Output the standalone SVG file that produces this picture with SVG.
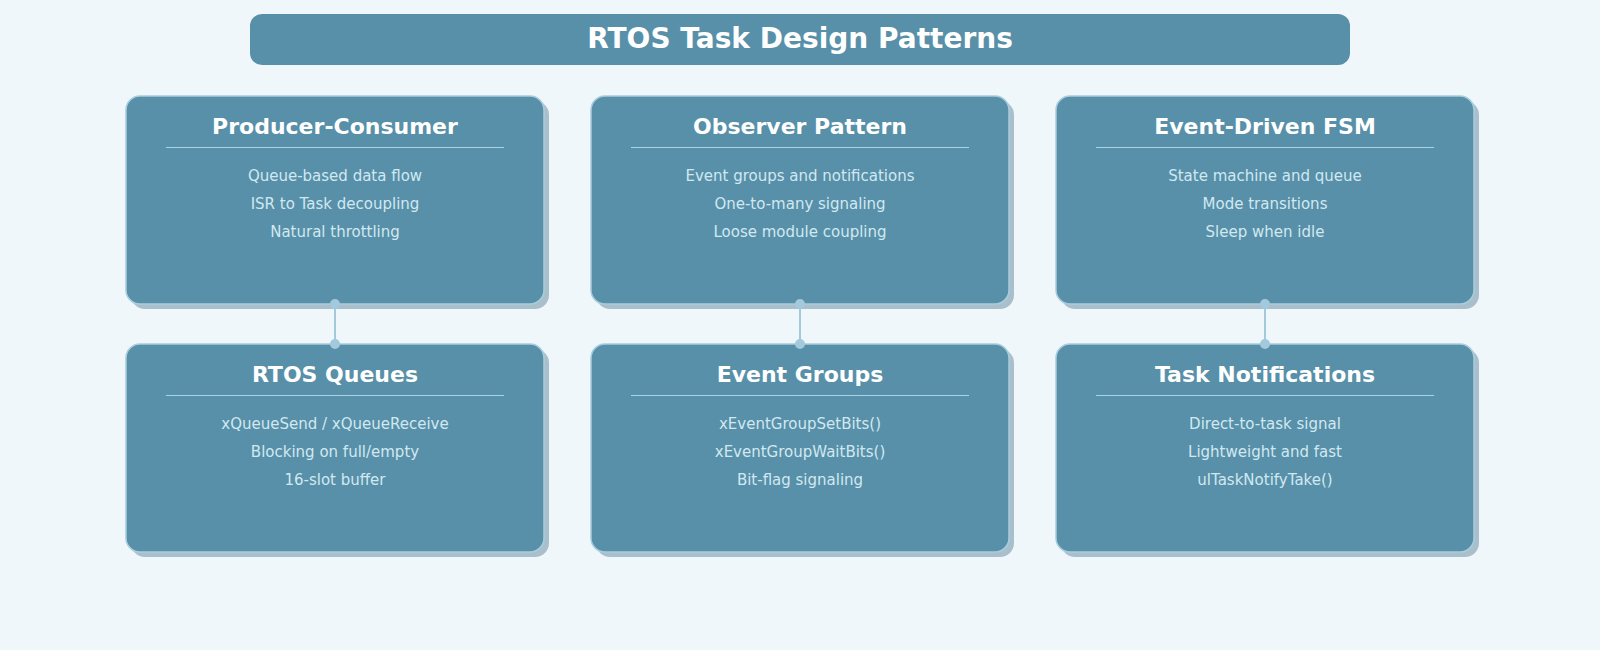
<svg xmlns="http://www.w3.org/2000/svg" width="1600" height="650" viewBox="0 0 1600 650">
<defs>
<style>
.bg{fill:#eff7fa}
.card{fill:#5790a8;stroke:#a9cddd;stroke-width:1.5}
.shadow{fill:#a9bfcc}
.ttl{font-family:"DejaVu Sans",sans-serif;font-weight:bold;font-size:22px;fill:#ffffff;text-anchor:middle}
.body{font-family:"DejaVu Sans",sans-serif;font-size:15px;fill:#d2e8f1;text-anchor:middle}
.sep{stroke:#a9d3e6;stroke-width:1}
.conn{stroke:#a3c9dc;stroke-width:2;fill:none}
.dot{fill:#a3c9dc}
</style>
</defs>
<rect class="bg" x="0" y="0" width="1600" height="650"/>
<g id="title">
<rect x="250" y="14" width="1100" height="51" rx="12" fill="#5790a8"/>
<text x="800" y="48" font-family="DejaVu Sans, sans-serif" font-weight="bold" font-size="28" fill="#ffffff" text-anchor="middle">RTOS Task Design Patterns</text>
</g>
<g id="producer-consumer">
<rect class="shadow" x="131" y="101" width="418" height="208" rx="14"/>
<rect class="card" x="126" y="96" width="418" height="208" rx="14"/>
<text class="ttl" x="335" y="134">Producer-Consumer</text>
<line class="sep" x1="166" y1="147.5" x2="504" y2="147.5"/>
<text class="body" x="335" y="181">Queue-based data flow</text>
<text class="body" x="335" y="209">ISR to Task decoupling</text>
<text class="body" x="335" y="237">Natural throttling</text>
</g>
<g id="observer-pattern">
<rect class="shadow" x="596" y="101" width="418" height="208" rx="14"/>
<rect class="card" x="591" y="96" width="418" height="208" rx="14"/>
<text class="ttl" x="800" y="134">Observer Pattern</text>
<line class="sep" x1="631" y1="147.5" x2="969" y2="147.5"/>
<text class="body" x="800" y="181">Event groups and notifications</text>
<text class="body" x="800" y="209">One-to-many signaling</text>
<text class="body" x="800" y="237">Loose module coupling</text>
</g>
<g id="event-driven-fsm">
<rect class="shadow" x="1061" y="101" width="418" height="208" rx="14"/>
<rect class="card" x="1056" y="96" width="418" height="208" rx="14"/>
<text class="ttl" x="1265" y="134">Event-Driven FSM</text>
<line class="sep" x1="1096" y1="147.5" x2="1434" y2="147.5"/>
<text class="body" x="1265" y="181">State machine and queue</text>
<text class="body" x="1265" y="209">Mode transitions</text>
<text class="body" x="1265" y="237">Sleep when idle</text>
</g>
<g id="rtos-queues">
<rect class="shadow" x="131" y="349" width="418" height="208" rx="14"/>
<rect class="card" x="126" y="344" width="418" height="208" rx="14"/>
<text class="ttl" x="335" y="382">RTOS Queues</text>
<line class="sep" x1="166" y1="395.5" x2="504" y2="395.5"/>
<text class="body" x="335" y="429">xQueueSend / xQueueReceive</text>
<text class="body" x="335" y="457">Blocking on full/empty</text>
<text class="body" x="335" y="485">16-slot buffer</text>
</g>
<g id="event-groups">
<rect class="shadow" x="596" y="349" width="418" height="208" rx="14"/>
<rect class="card" x="591" y="344" width="418" height="208" rx="14"/>
<text class="ttl" x="800" y="382">Event Groups</text>
<line class="sep" x1="631" y1="395.5" x2="969" y2="395.5"/>
<text class="body" x="800" y="429">xEventGroupSetBits()</text>
<text class="body" x="800" y="457">xEventGroupWaitBits()</text>
<text class="body" x="800" y="485">Bit-flag signaling</text>
</g>
<g id="task-notifications">
<rect class="shadow" x="1061" y="349" width="418" height="208" rx="14"/>
<rect class="card" x="1056" y="344" width="418" height="208" rx="14"/>
<text class="ttl" x="1265" y="382">Task Notifications</text>
<line class="sep" x1="1096" y1="395.5" x2="1434" y2="395.5"/>
<text class="body" x="1265" y="429">Direct-to-task signal</text>
<text class="body" x="1265" y="457">Lightweight and fast</text>
<text class="body" x="1265" y="485">ulTaskNotifyTake()</text>
</g>
<g id="connectors">
<line class="conn" x1="335" y1="304" x2="335" y2="344"/>
<circle class="dot" cx="335" cy="304" r="5"/><circle class="dot" cx="335" cy="344" r="5"/>
<line class="conn" x1="800" y1="304" x2="800" y2="344"/>
<circle class="dot" cx="800" cy="304" r="5"/><circle class="dot" cx="800" cy="344" r="5"/>
<line class="conn" x1="1265" y1="304" x2="1265" y2="344"/>
<circle class="dot" cx="1265" cy="304" r="5"/><circle class="dot" cx="1265" cy="344" r="5"/>
</g>
</svg>
